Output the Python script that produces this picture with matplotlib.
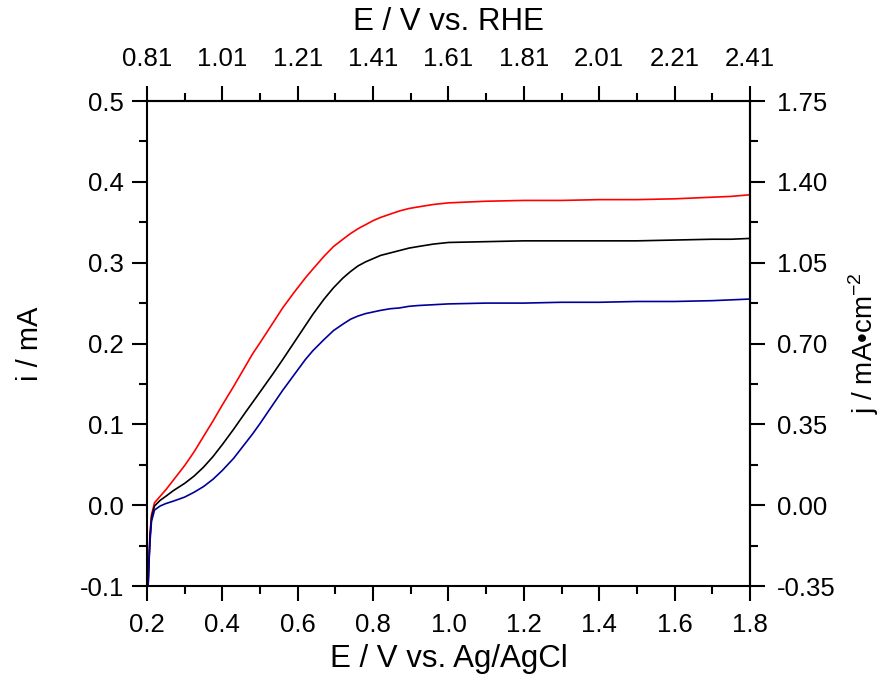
import numpy as np
import matplotlib
matplotlib.use('Agg')
import matplotlib.pyplot as plt
from matplotlib.ticker import FixedLocator, MultipleLocator, FormatStrFormatter

plt.rcParams['font.family'] = ['Liberation Sans', 'DejaVu Sans']
plt.rcParams['mathtext.fontset'] = 'custom'
plt.rcParams['mathtext.rm'] = 'Liberation Sans'
plt.rcParams['axes.unicode_minus'] = False

# potential vs Ag/AgCl (V)
E = [0.203, 0.205, 0.208, 0.212, 0.22, 0.235, 0.25, 0.27, 0.30, 0.325, 0.35, 0.375,
     0.40, 0.43, 0.46, 0.48, 0.50, 0.535, 0.56, 0.59, 0.62, 0.64, 0.67, 0.695, 0.72,
     0.74, 0.76, 0.78, 0.80, 0.82, 0.845, 0.87, 0.895, 0.92, 0.96, 1.0, 1.1, 1.2, 1.3,
     1.4, 1.5, 1.6, 1.7, 1.75, 1.8]

# current (mA)
i_red = [-0.1, -0.07, -0.035, -0.012, 0.003, 0.011, 0.019, 0.031, 0.049, 0.066, 0.085, 0.104,
         0.124, 0.147, 0.171, 0.187, 0.201, 0.226, 0.244, 0.263, 0.281, 0.292, 0.308, 0.320, 0.329,
         0.336, 0.342, 0.347, 0.352, 0.356, 0.360, 0.364, 0.367, 0.369, 0.372, 0.374, 0.376, 0.377,
         0.377, 0.378, 0.378, 0.379, 0.381, 0.382, 0.384]
i_black = [-0.1, -0.072, -0.04, -0.015, -0.001, 0.006, 0.011, 0.018, 0.027, 0.036, 0.047, 0.060,
           0.075, 0.094, 0.114, 0.127, 0.140, 0.163, 0.180, 0.201, 0.222, 0.236, 0.255, 0.269, 0.281,
           0.289, 0.296, 0.301, 0.305, 0.309, 0.312, 0.315, 0.318, 0.320, 0.323, 0.325, 0.326, 0.327,
           0.327, 0.327, 0.327, 0.328, 0.329, 0.329, 0.330]
i_blue = [-0.1, -0.075, -0.045, -0.02, -0.006, -0.001, 0.002, 0.005, 0.010, 0.016, 0.023, 0.032,
          0.043, 0.058, 0.076, 0.088, 0.101, 0.125, 0.142, 0.161, 0.180, 0.191, 0.205, 0.216, 0.224,
          0.230, 0.234, 0.237, 0.239, 0.241, 0.243, 0.244, 0.246, 0.247, 0.248, 0.249, 0.250, 0.250,
          0.251, 0.251, 0.252, 0.252, 0.253, 0.254, 0.255]

rhe_offset = 0.61      # E(RHE) = E(Ag/AgCl) + 0.61
area_factor = 3.5      # j = i * 3.5 (mA cm^-2)

fig = plt.figure(figsize=(8.87, 6.77), dpi=100)
ax = fig.add_axes([0.1657, 0.1344, 0.6798, 0.7164])

ax.plot(E, i_red, color='#ff0000', lw=1.2)
ax.plot(E, i_black, color='black', lw=1.2)
ax.plot(E, i_blue, color='#000099', lw=1.2)

ax.set_xlim(0.2, 1.8)
ax.set_ylim(-0.1, 0.5)
ax.xaxis.set_major_locator(MultipleLocator(0.2))
ax.xaxis.set_minor_locator(MultipleLocator(0.1))
ax.yaxis.set_major_locator(MultipleLocator(0.1))
ax.yaxis.set_minor_locator(MultipleLocator(0.05))
ax.xaxis.set_major_formatter(FormatStrFormatter('%.1f'))
ax.yaxis.set_major_formatter(FormatStrFormatter('%.1f'))

# top axis: RHE scale
top = ax.secondary_xaxis('top', functions=(lambda x: x + rhe_offset, lambda x: x - rhe_offset))
top_major = [round(v + rhe_offset, 2) for v in np.arange(0.2, 1.81, 0.2)]
top_minor = [round(v + rhe_offset, 2) for v in np.arange(0.3, 1.8, 0.2)]
top.xaxis.set_major_locator(FixedLocator(top_major))
top.xaxis.set_minor_locator(FixedLocator(top_minor))
top.xaxis.set_major_formatter(FormatStrFormatter('%.2f'))

# right axis: current density
right = ax.secondary_yaxis('right', functions=(lambda y: y * area_factor, lambda y: y / area_factor))
right.yaxis.set_major_locator(FixedLocator([round(v * area_factor, 2) for v in np.arange(-0.1, 0.51, 0.1)]))
right.yaxis.set_minor_locator(FixedLocator([round(v * area_factor, 3) for v in np.arange(-0.05, 0.5, 0.1)]))
right.yaxis.set_major_formatter(FormatStrFormatter('%.2f'))

for a in (ax, top, right):
    a.tick_params(which='major', direction='out', length=10.5, width=1.5, labelsize=18.5)
    a.tick_params(which='minor', direction='out', length=6, width=1.5)
    for s in a.spines.values():
        s.set_linewidth(1.5)
ax.tick_params(axis='x', which='major', pad=9)
ax.tick_params(axis='y', which='major', pad=6)
top.tick_params(axis='x', which='major', pad=11)
right.tick_params(axis='y', which='major', pad=9)

ax.set_xlabel('E / V vs. Ag/AgCl', fontsize=22.5, labelpad=5)
top.set_xlabel('E / V vs. RHE', fontsize=22.5, labelpad=12)
ax.set_ylabel('i / mA', fontsize=21, labelpad=26)
right.set_ylabel(r'j / mA•cm$^{\mathregular{-2}}$', fontsize=20, labelpad=8)

fig.savefig('out.png', dpi=100)
